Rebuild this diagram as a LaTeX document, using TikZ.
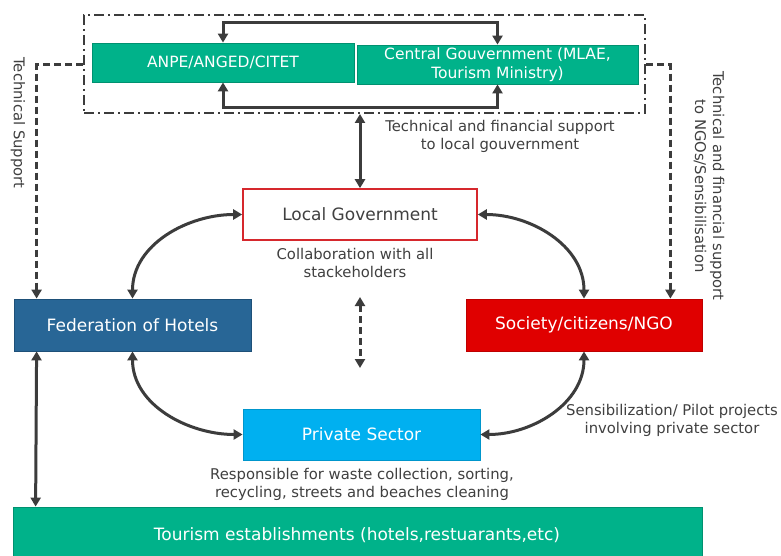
\documentclass[tikz,border=0pt]{standalone}
\usepackage{fontspec}
\setmainfont{DejaVu Sans}
\usetikzlibrary{arrows.meta}
\definecolor{tgreen}{RGB}{0,178,138}
\definecolor{tgreenb}{RGB}{0,145,112}
\definecolor{fedblue}{RGB}{40,102,150}
\definecolor{fedblueb}{RGB}{30,80,120}
\definecolor{socred}{RGB}{224,0,0}
\definecolor{socredb}{RGB}{190,0,0}
\definecolor{privblue}{RGB}{0,176,240}
\definecolor{lgred}{RGB}{214,40,45}
\definecolor{txtgray}{RGB}{64,64,64}
\definecolor{arrgray}{RGB}{60,60,60}
\tikzset{
  box/.style={draw, line width=0.8pt, inner sep=0pt, align=center, text=white, font=\fontsize{17}{20}\selectfont},
  topbox/.style={box, fill=tgreen, draw=tgreenb, font=\fontsize{15.5}{18.5}\selectfont},
  note/.style={align=center, text=txtgray, inner sep=0pt, font=\fontsize{14.8}{18}\selectfont},
  arr/.style={draw=arrgray, line width=3pt, {Triangle[length=9pt,width=10pt]}-{Triangle[length=9pt,width=10pt]}},
  dsh/.style={draw=arrgray, line width=3pt, dash pattern=on 7pt off 4pt, -{Triangle[length=9pt,width=10pt]}},
  dshboth/.style={dsh, {Triangle[length=9pt,width=10pt]}-{Triangle[length=9pt,width=10pt]}},
  ddot/.style={draw=arrgray, line width=2pt, dash pattern=on 10pt off 4pt on 2pt off 4pt}
}
\begin{document}
\begin{tikzpicture}[x=1pt,y=-1pt]
\clip (0,0) rectangle (781,556);
\fill[white] (0,0) rectangle (781,556);

% top group
\node[ddot, minimum width=561pt, minimum height=98pt, inner sep=0pt] (dbox) at (364.5,64) {};
\node[topbox, minimum width=262pt, minimum height=39pt] (anpe) at (223,62.5) {ANPE/ANGED/CITET};
\node[topbox, minimum width=281pt, minimum height=39pt] (cgov) at (497.5,64.5) {Central Gouvernment (MLAE,\\Tourism Ministry)};

% main boxes
\node[box, fill=white, draw=lgred, line width=1.6pt, text=txtgray, minimum width=234pt, minimum height=51pt] (lg) at (360,214.5) {Local Government};
\node[box, fill=fedblue, draw=fedblueb, minimum width=237pt, minimum height=52pt] (fed) at (132.5,325) {Federation of Hotels};
\node[box, fill=socred, draw=socredb, minimum width=236pt, minimum height=52pt] (soc) at (584,325) {Society/citizens/NGO};
\node[box, fill=privblue, draw=privblue!85!black, minimum width=237pt, minimum height=51pt] (priv) at (361.5,434.5) {Private Sector};
\node[box, fill=tgreen, draw=tgreenb, minimum width=689pt, minimum height=60pt] (tour) at (357.5,537) {};
\node[text=white, inner sep=0pt, font=\fontsize{17}{20}\selectfont] (tourtxt) at (357,535) {Tourism establishments (hotels,restuarants,etc)};

% notes
\node[note] (n1) at (500,136.5) {Technical and financial support\\to local gouvernment};
\node[note] (n2) at (355,262.5) {Collaboration with all\\stackeholders};
\node[note] (n3) at (362,484) {Responsible for waste collection, sorting,\\recycling, streets and beaches cleaning};
\node[note] (n4) at (672,420.5) {Sensibilization/ Pilot projects\\involving private sector};
\node[note, rotate=-90] (n5) at (18,123) {Technical Support};
\node[note, rotate=-90] (n6) at (709,186) {Technical and financial support\\to NGOs/Sensibilisation};

% connectors in top group
\draw[arr] (anpe.north) -- ++(0,-20) -| (cgov.north);
\draw[arr] (anpe.south) -- ++(0,25) -| (cgov.south);
\draw[arr] (lg.north |- dbox.south) -- (lg.north);

% dashed support lines
\draw[dsh] (dbox.west |- 0,65) -| ([xshift=23pt]fed.north west);
\draw[dsh] (dbox.east |- 0,65) -| ([xshift=-32pt]soc.north east);

% curved links
\draw[arr] (lg.west) to[out=180,in=90] (fed.north);
\draw[arr] (lg.east) to[out=0,in=90] (soc.north);
\draw[arr] (fed.south) to[out=-90,in=180] (priv.west);
\draw[arr] (soc.south) to[out=-90,in=0] (priv.east);

% vertical links
\draw[arr] ([xshift=23pt]fed.south west) -- ([xshift=23pt]tour.north west);
\coordinate (m1) at (360,297);
\coordinate (m2) at (360,368);
\draw[dshboth] (m1) -- (m2);
\end{tikzpicture}
\end{document}
